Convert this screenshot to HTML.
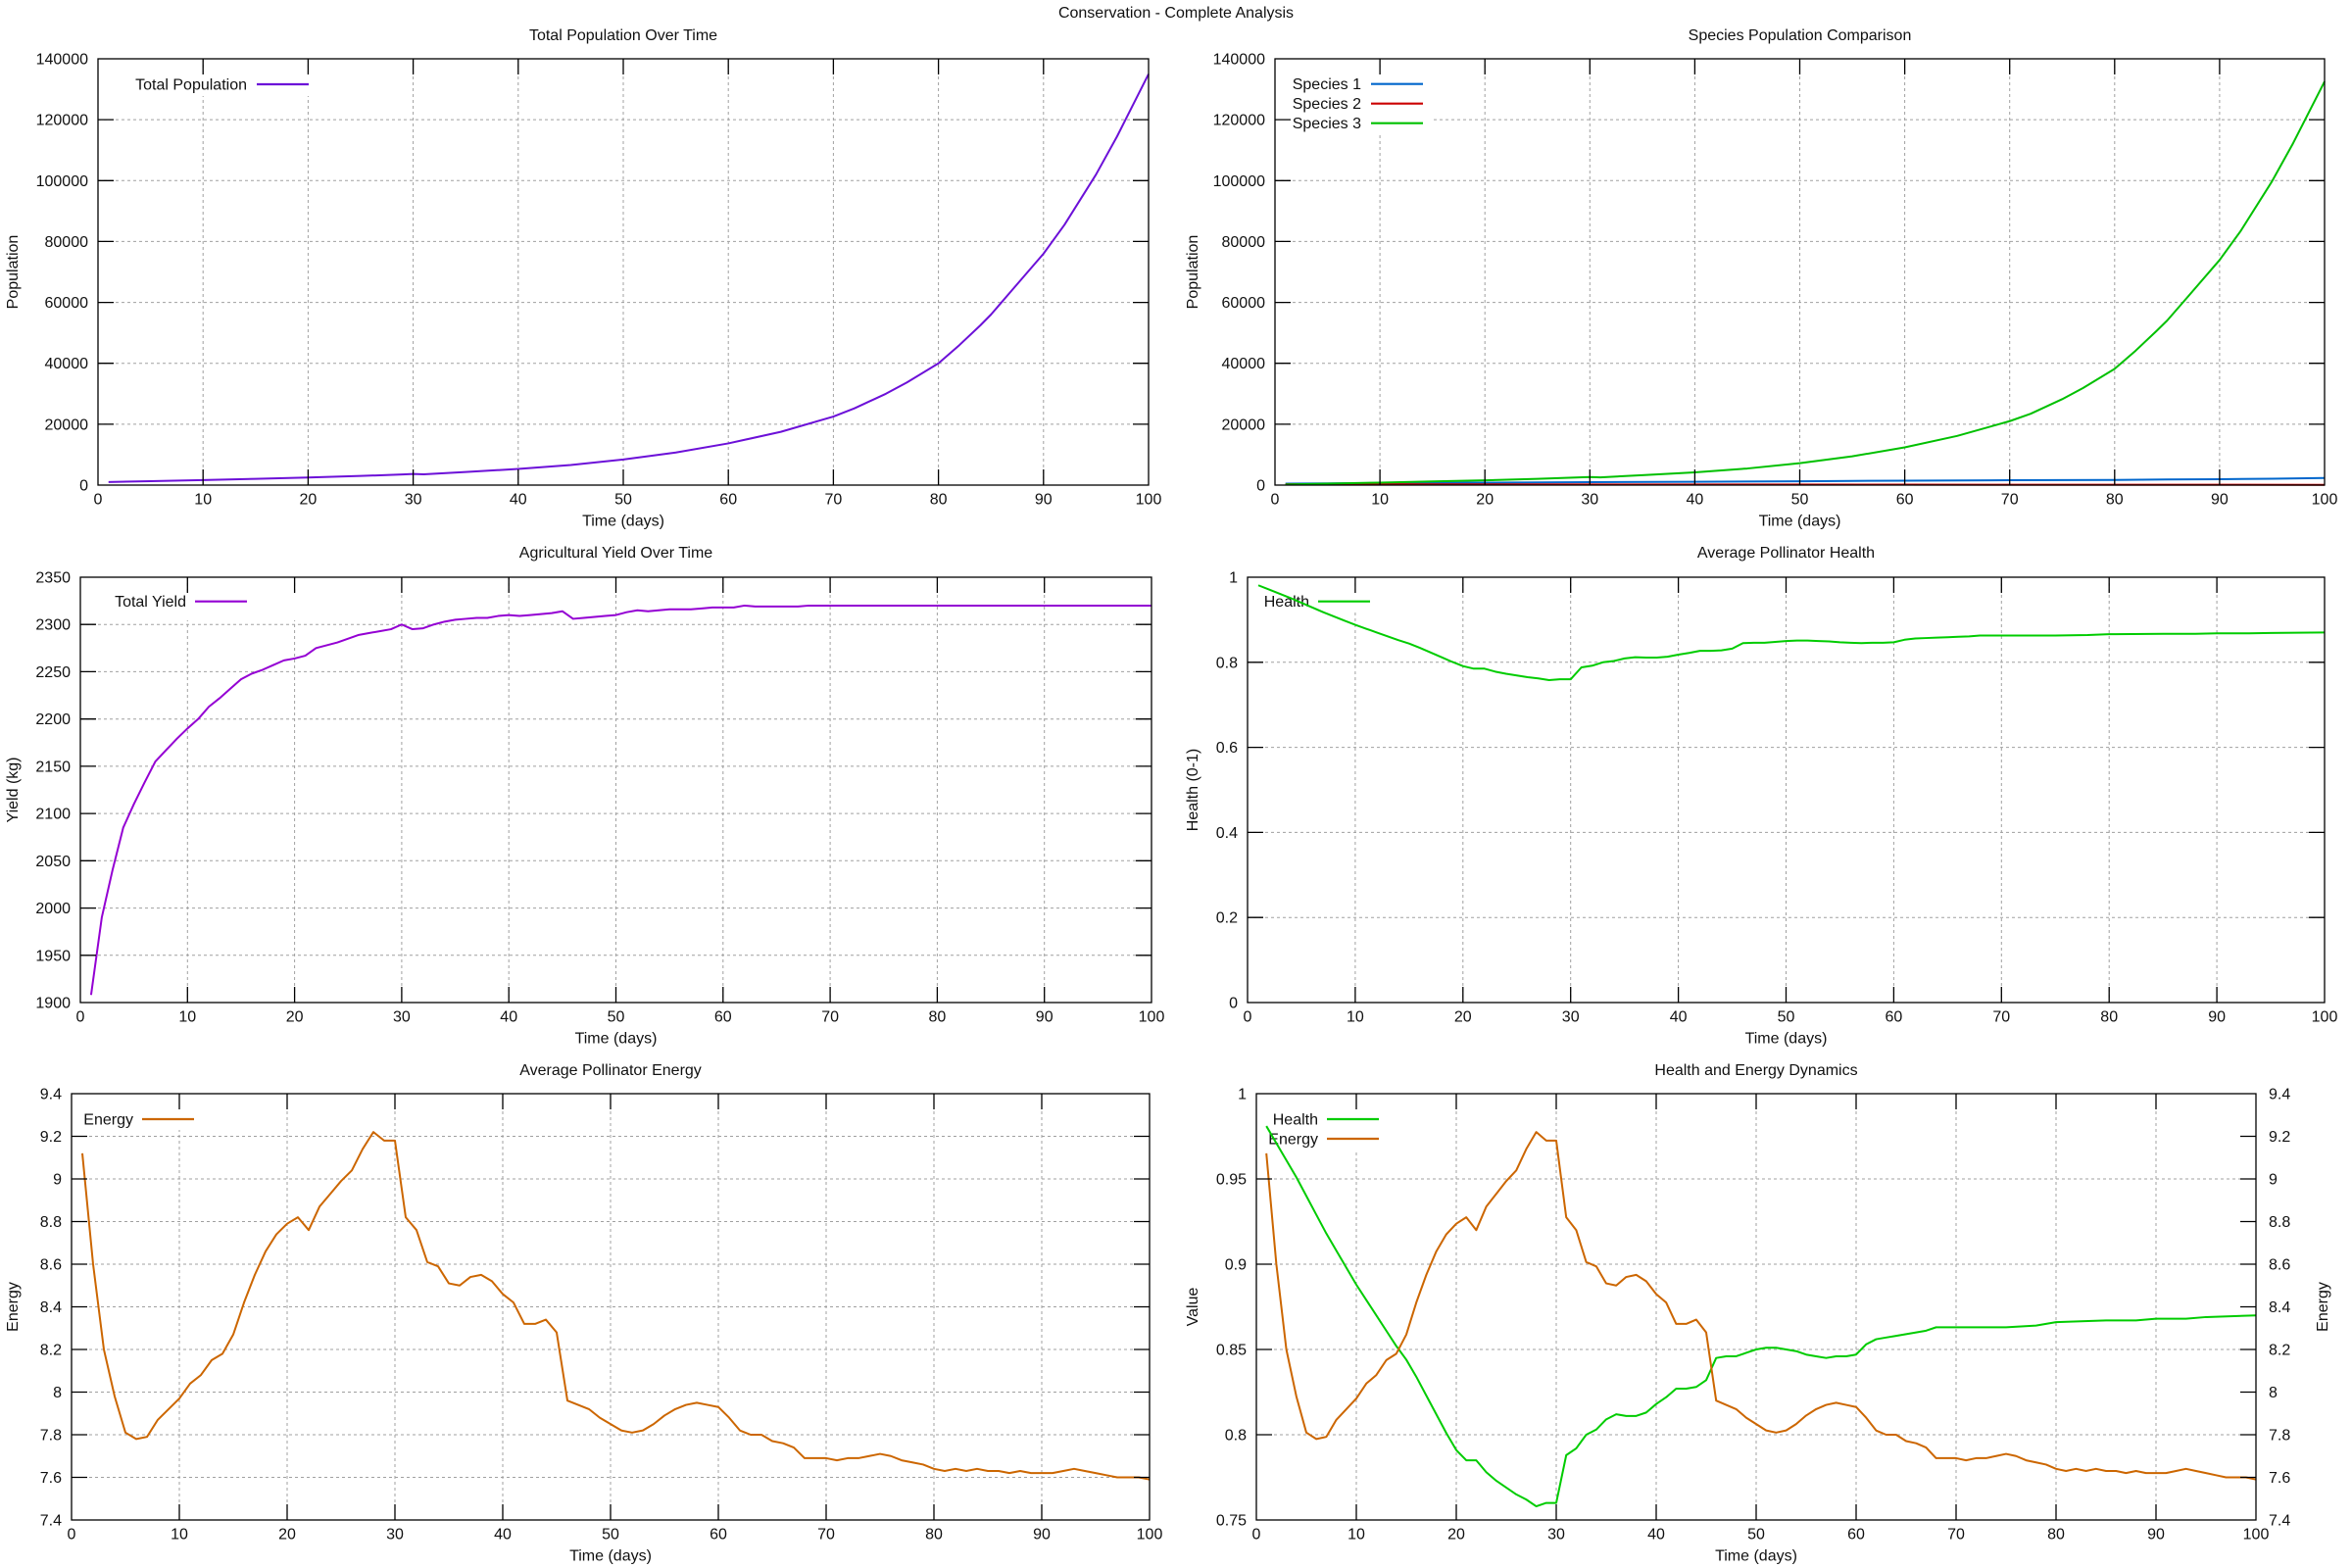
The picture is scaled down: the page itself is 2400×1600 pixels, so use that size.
<!DOCTYPE html>
<html><head><meta charset="utf-8"><style>
html,body{margin:0;padding:0;background:#fff}
svg{display:block}
text{font-family:"Liberation Sans",Arial,sans-serif;font-size:16px;fill:#111}
.gr{stroke:#a0a0a0;stroke-width:1;stroke-dasharray:3 3;fill:none}
.tk{stroke:#000;stroke-width:1.3;fill:none}
.bd{stroke:#000;stroke-width:1.3;fill:none}
.ln{fill:none;stroke-width:2;stroke-linejoin:round;vector-effect:non-scaling-stroke}
.sm{stroke-width:2.2}
.r{text-anchor:end}.m{text-anchor:middle}
</style></head><body>
<svg width="2400" height="1600" viewBox="0 0 2400 1600" xmlns="http://www.w3.org/2000/svg">
<rect width="2400" height="1600" fill="#fff"/>
<text x="1200" y="18" class="m">Conservation - Complete Analysis</text>

<!-- ========== TL ========== -->
<path class="gr" d="M207.2 60V495M314.4 60V495M421.6 60V495M528.8 60V495M636 60V495M743.2 60V495M850.4 60V495M957.6 60V495M1064.8 60V495M100 432.9H1172M100 370.7H1172M100 308.6H1172M100 246.4H1172M100 184.3H1172M100 122.1H1172"/>
<rect x="101" y="77" width="222" height="21" fill="#fff"/>
<polyline class="ln" stroke="#6c10d8" transform="translate(100 495) scale(10.72 -0.0031071)" points="1,1000 5,1300 10,1650 15,2050 20,2500 25,3000 29,3500 30,3650 31,3550 35,4300 40,5300 45,6600 50,8400 55,10700 60,13700 65,17500 70,22500 72,25200 75,30000 77,33700 80,40000 82,46000 84,52500 85,56000 87,64000 90,76000 92,85500 95,102000 97,114500 100,135000"/>
<text x="252" y="91.5" class="r">Total Population</text>
<line x1="262" y1="86" x2="315" y2="86" stroke="#6c10d8" class="sm"/>
<path class="tk" d="M207.2 495v-16M207.2 60v16M314.4 495v-16M314.4 60v16M421.6 495v-16M421.6 60v16M528.8 495v-16M528.8 60v16M636 495v-16M636 60v16M743.2 495v-16M743.2 60v16M850.4 495v-16M850.4 60v16M957.6 495v-16M957.6 60v16M1064.8 495v-16M1064.8 60v16M100 432.9h16M1172 432.9h-16M100 370.7h16M1172 370.7h-16M100 308.6h16M1172 308.6h-16M100 246.4h16M1172 246.4h-16M100 184.3h16M1172 184.3h-16M100 122.1h16M1172 122.1h-16"/>
<rect class="bd" x="100" y="60" width="1072" height="435"/>
<text x="90" y="500.5" class="r">0</text>
<text x="90" y="438.4" class="r">20000</text>
<text x="90" y="376.2" class="r">40000</text>
<text x="90" y="314.1" class="r">60000</text>
<text x="90" y="251.9" class="r">80000</text>
<text x="90" y="189.8" class="r">100000</text>
<text x="90" y="127.6" class="r">120000</text>
<text x="90" y="65.5" class="r">140000</text>
<text x="100" y="514.5" class="m">0</text>
<text x="207.2" y="514.5" class="m">10</text>
<text x="314.4" y="514.5" class="m">20</text>
<text x="421.6" y="514.5" class="m">30</text>
<text x="528.8" y="514.5" class="m">40</text>
<text x="636" y="514.5" class="m">50</text>
<text x="743.2" y="514.5" class="m">60</text>
<text x="850.4" y="514.5" class="m">70</text>
<text x="957.6" y="514.5" class="m">80</text>
<text x="1064.8" y="514.5" class="m">90</text>
<text x="1172" y="514.5" class="m">100</text>
<text x="636" y="41" class="m">Total Population Over Time</text>
<text x="636" y="536.5" class="m">Time (days)</text>
<text transform="translate(18 277.5) rotate(-90)" class="m">Population</text>

<!-- ========== TR ========== -->
<path class="gr" d="M1408.1 60V495M1515.2 60V495M1622.3 60V495M1729.4 60V495M1836.5 60V495M1943.6 60V495M2050.7 60V495M2157.8 60V495M2264.9 60V495M1301 432.9H2372M1301 370.7H2372M1301 308.6H2372M1301 246.4H2372M1301 184.3H2372M1301 122.1H2372"/>
<rect x="1302" y="77" width="159" height="60" fill="#fff"/>
<polyline class="ln" stroke="#0066cc" transform="translate(1301 495) scale(10.71 -0.0031071)" points="1,500 10,650 20,800 30,950 40,1100 50,1250 55,1380 60,1450 70,1600 80,1700 85,1850 90,1950 95,2100 100,2350"/>
<polyline class="ln" stroke="#cc0000" transform="translate(1301 495) scale(10.71 -0.0031071)" points="1,300 20,250 40,200 60,150 80,120 100,100"/>
<polyline class="ln" stroke="#00c000" transform="translate(1301 495) scale(10.71 -0.0031071)" points="1,200 5,480 10,820 15,1200 20,1580 25,2050 29,2520 30,2650 31,2550 35,3260 40,4200 45,5450 50,7200 55,9450 60,12400 65,16150 70,21000 72,23440 75,28215 77,31900 80,38180 82,44150 84,50650 85,54030 87,61960 90,73930 92,83400 95,99800 97,112250 100,132550"/>
<text x="1389" y="91.2" class="r">Species 1</text>
<text x="1389" y="111.2" class="r">Species 2</text>
<text x="1389" y="131.2" class="r">Species 3</text>
<line x1="1399" y1="85.7" x2="1452" y2="85.7" stroke="#0066cc" class="sm"/>
<line x1="1399" y1="105.7" x2="1452" y2="105.7" stroke="#cc0000" class="sm"/>
<line x1="1399" y1="125.7" x2="1452" y2="125.7" stroke="#00c000" class="sm"/>
<path class="tk" d="M1408.1 495v-16M1408.1 60v16M1515.2 495v-16M1515.2 60v16M1622.3 495v-16M1622.3 60v16M1729.4 495v-16M1729.4 60v16M1836.5 495v-16M1836.5 60v16M1943.6 495v-16M1943.6 60v16M2050.7 495v-16M2050.7 60v16M2157.8 495v-16M2157.8 60v16M2264.9 495v-16M2264.9 60v16M1301 432.9h16M2372 432.9h-16M1301 370.7h16M2372 370.7h-16M1301 308.6h16M2372 308.6h-16M1301 246.4h16M2372 246.4h-16M1301 184.3h16M2372 184.3h-16M1301 122.1h16M2372 122.1h-16"/>
<rect class="bd" x="1301" y="60" width="1071" height="435"/>
<text x="1291" y="500.5" class="r">0</text>
<text x="1291" y="438.4" class="r">20000</text>
<text x="1291" y="376.2" class="r">40000</text>
<text x="1291" y="314.1" class="r">60000</text>
<text x="1291" y="251.9" class="r">80000</text>
<text x="1291" y="189.8" class="r">100000</text>
<text x="1291" y="127.6" class="r">120000</text>
<text x="1291" y="65.5" class="r">140000</text>
<text x="1301" y="514.5" class="m">0</text>
<text x="1408.1" y="514.5" class="m">10</text>
<text x="1515.2" y="514.5" class="m">20</text>
<text x="1622.3" y="514.5" class="m">30</text>
<text x="1729.4" y="514.5" class="m">40</text>
<text x="1836.5" y="514.5" class="m">50</text>
<text x="1943.6" y="514.5" class="m">60</text>
<text x="2050.7" y="514.5" class="m">70</text>
<text x="2157.8" y="514.5" class="m">80</text>
<text x="2264.9" y="514.5" class="m">90</text>
<text x="2372" y="514.5" class="m">100</text>
<text x="1836.5" y="41" class="m">Species Population Comparison</text>
<text x="1836.5" y="536.5" class="m">Time (days)</text>
<text transform="translate(1222 277.5) rotate(-90)" class="m">Population</text>

<!-- ========== ML ========== -->
<path class="gr" d="M191.3 589V1023M300.6 589V1023M409.9 589V1023M519.2 589V1023M628.5 589V1023M737.8 589V1023M847.1 589V1023M956.4 589V1023M1065.7 589V1023M82 974.8H1175M82 926.6H1175M82 878.3H1175M82 830.1H1175M82 781.9H1175M82 733.7H1175M82 685.4H1175M82 637.2H1175"/>
<rect x="83" y="605" width="222" height="28" fill="#fff"/>
<polyline class="ln" stroke="#9400d3" transform="translate(82 2855.44) scale(10.93 -0.96444)" points="1,1908 2,1990 3,2040 4,2085 5,2110 6,2133 7,2155 8,2167 9,2179 10,2190 11,2200 12,2213 13,2222 14,2232 15,2242 16,2248 17,2252 18,2257 19,2262 20,2264 21,2267 22,2275 23,2278 24,2281 25,2285 26,2289 27,2291 28,2293 29,2295 30,2300 31,2295 32,2296 33,2300 34,2303 35,2305 36,2306 37,2307 38,2307 39,2309 40,2310 41,2309 42,2310 43,2311 44,2312 45,2314 46,2306 47,2307 48,2308 49,2309 50,2310 51,2313 52,2315 53,2314 54,2315 55,2316 56,2316 57,2316 58,2317 59,2318 60,2318 61,2318 62,2320 63,2319 64,2319 65,2319 66,2319 67,2319 68,2320 69,2320 70,2320 80,2320 90,2320 100,2320"/>
<text x="190" y="619.2" class="r">Total Yield</text>
<line x1="199" y1="613.7" x2="252" y2="613.7" stroke="#9400d3" class="sm"/>
<path class="tk" d="M191.3 1023v-16M191.3 589v16M300.6 1023v-16M300.6 589v16M409.9 1023v-16M409.9 589v16M519.2 1023v-16M519.2 589v16M628.5 1023v-16M628.5 589v16M737.8 1023v-16M737.8 589v16M847.1 1023v-16M847.1 589v16M956.4 1023v-16M956.4 589v16M1065.7 1023v-16M1065.7 589v16M82 974.8h16M1175 974.8h-16M82 926.6h16M1175 926.6h-16M82 878.3h16M1175 878.3h-16M82 830.1h16M1175 830.1h-16M82 781.9h16M1175 781.9h-16M82 733.7h16M1175 733.7h-16M82 685.4h16M1175 685.4h-16M82 637.2h16M1175 637.2h-16"/>
<rect class="bd" x="82" y="589" width="1093" height="434"/>
<text x="72" y="1028.5" class="r">1900</text>
<text x="72" y="980.3" class="r">1950</text>
<text x="72" y="932.1" class="r">2000</text>
<text x="72" y="883.8" class="r">2050</text>
<text x="72" y="835.6" class="r">2100</text>
<text x="72" y="787.4" class="r">2150</text>
<text x="72" y="739.2" class="r">2200</text>
<text x="72" y="690.9" class="r">2250</text>
<text x="72" y="642.7" class="r">2300</text>
<text x="72" y="594.5" class="r">2350</text>
<text x="82" y="1042.5" class="m">0</text>
<text x="191.3" y="1042.5" class="m">10</text>
<text x="300.6" y="1042.5" class="m">20</text>
<text x="409.9" y="1042.5" class="m">30</text>
<text x="519.2" y="1042.5" class="m">40</text>
<text x="628.5" y="1042.5" class="m">50</text>
<text x="737.8" y="1042.5" class="m">60</text>
<text x="847.1" y="1042.5" class="m">70</text>
<text x="956.4" y="1042.5" class="m">80</text>
<text x="1065.7" y="1042.5" class="m">90</text>
<text x="1175" y="1042.5" class="m">100</text>
<text x="628.5" y="569" class="m">Agricultural Yield Over Time</text>
<text x="628.5" y="1064.5" class="m">Time (days)</text>
<text transform="translate(18 806) rotate(-90)" class="m">Yield (kg)</text>

<!-- ========== MR ========== -->
<path class="gr" d="M1382.9 589V1023M1492.8 589V1023M1602.7 589V1023M1712.6 589V1023M1822.5 589V1023M1932.4 589V1023M2042.3 589V1023M2152.2 589V1023M2262.1 589V1023M1273 936.2H2372M1273 849.4H2372M1273 762.6H2372M1273 675.8H2372"/>
<rect x="1274" y="605" width="134" height="20" fill="#fff"/>
<text x="1336" y="619.2" class="r">Health</text>
<line x1="1345" y1="613.7" x2="1398" y2="613.7" stroke="#00cc00" class="sm"/>
<polyline class="ln" stroke="#00cc00" transform="translate(1273 1023) scale(10.99 -434)" points="1,0.981 2,0.971 3,0.961 4,0.951 5,0.940 6,0.929 7,0.918 8,0.908 9,0.898 10,0.888 11,0.879 12,0.870 13,0.861 14,0.852 15,0.844 16,0.834 17,0.823 18,0.812 19,0.801 20,0.791 21,0.785 22,0.785 23,0.778 24,0.773 25,0.769 26,0.765 27,0.762 28,0.758 29,0.760 30,0.760 31,0.788 32,0.792 33,0.800 34,0.803 35,0.809 36,0.812 37,0.811 38,0.811 39,0.813 40,0.818 41,0.822 42,0.827 43,0.827 44,0.828 45,0.832 46,0.845 47,0.846 48,0.846 49,0.848 50,0.850 51,0.851 52,0.851 53,0.850 54,0.849 55,0.847 56,0.846 57,0.845 58,0.846 59,0.846 60,0.847 61,0.853 62,0.856 63,0.857 64,0.858 65,0.859 66,0.860 67,0.861 68,0.863 69,0.863 70,0.863 75,0.863 78,0.864 80,0.866 85,0.867 88,0.867 90,0.868 93,0.868 95,0.869 100,0.870"/>
<path class="tk" d="M1382.9 1023v-16M1382.9 589v16M1492.8 1023v-16M1492.8 589v16M1602.7 1023v-16M1602.7 589v16M1712.6 1023v-16M1712.6 589v16M1822.5 1023v-16M1822.5 589v16M1932.4 1023v-16M1932.4 589v16M2042.3 1023v-16M2042.3 589v16M2152.2 1023v-16M2152.2 589v16M2262.1 1023v-16M2262.1 589v16M1273 936.2h16M2372 936.2h-16M1273 849.4h16M2372 849.4h-16M1273 762.6h16M2372 762.6h-16M1273 675.8h16M2372 675.8h-16"/>
<rect class="bd" x="1273" y="589" width="1099" height="434"/>
<text x="1263" y="1028.5" class="r">0</text>
<text x="1263" y="941.7" class="r">0.2</text>
<text x="1263" y="854.9" class="r">0.4</text>
<text x="1263" y="768.1" class="r">0.6</text>
<text x="1263" y="681.3" class="r">0.8</text>
<text x="1263" y="594.5" class="r">1</text>
<text x="1273" y="1042.5" class="m">0</text>
<text x="1382.9" y="1042.5" class="m">10</text>
<text x="1492.8" y="1042.5" class="m">20</text>
<text x="1602.7" y="1042.5" class="m">30</text>
<text x="1712.6" y="1042.5" class="m">40</text>
<text x="1822.5" y="1042.5" class="m">50</text>
<text x="1932.4" y="1042.5" class="m">60</text>
<text x="2042.3" y="1042.5" class="m">70</text>
<text x="2152.2" y="1042.5" class="m">80</text>
<text x="2262.1" y="1042.5" class="m">90</text>
<text x="2372" y="1042.5" class="m">100</text>
<text x="1822.5" y="569" class="m">Average Pollinator Health</text>
<text x="1822.5" y="1064.5" class="m">Time (days)</text>
<text transform="translate(1222 806) rotate(-90)" class="m">Health (0-1)</text>

<!-- ========== BL ========== -->
<path class="gr" d="M183 1116V1551M293 1116V1551M403 1116V1551M513 1116V1551M623 1116V1551M733 1116V1551M843 1116V1551M953 1116V1551M1063 1116V1551M73 1507.5H1173M73 1464H1173M73 1420.5H1173M73 1377H1173M73 1333.5H1173M73 1290H1173M73 1246.5H1173M73 1203H1173M73 1159.5H1173"/>
<rect x="74" y="1133" width="132" height="20" fill="#fff"/>
<polyline class="ln" stroke="#cc6600" transform="translate(73 3160.5) scale(11 -217.5)" points="1,9.12 2,8.6 3,8.2 4,7.98 5,7.81 6,7.78 7,7.79 8,7.87 9,7.92 10,7.97 11,8.04 12,8.08 13,8.15 14,8.18 15,8.27 16,8.42 17,8.55 18,8.66 19,8.74 20,8.79 21,8.82 22,8.76 23,8.87 24,8.93 25,8.99 26,9.04 27,9.14 28,9.22 29,9.18 30,9.18 31,8.82 32,8.76 33,8.61 34,8.59 35,8.51 36,8.50 37,8.54 38,8.55 39,8.52 40,8.46 41,8.42 42,8.32 43,8.32 44,8.34 45,8.28 46,7.96 47,7.94 48,7.92 49,7.88 50,7.85 51,7.82 52,7.81 53,7.82 54,7.85 55,7.89 56,7.92 57,7.94 58,7.95 59,7.94 60,7.93 61,7.88 62,7.82 63,7.80 64,7.80 65,7.77 66,7.76 67,7.74 68,7.69 69,7.69 70,7.69 71,7.68 72,7.69 73,7.69 74,7.70 75,7.71 76,7.70 77,7.68 78,7.67 79,7.66 80,7.64 81,7.63 82,7.64 83,7.63 84,7.64 85,7.63 86,7.63 87,7.62 88,7.63 89,7.62 90,7.62 91,7.62 92,7.63 93,7.64 94,7.63 95,7.62 96,7.61 97,7.60 98,7.60 99,7.60 100,7.59"/>
<text x="136" y="1147.5" class="r">Energy</text>
<line x1="145" y1="1142" x2="198" y2="1142" stroke="#cc6600" class="sm"/>
<path class="tk" d="M183 1551v-16M183 1116v16M293 1551v-16M293 1116v16M403 1551v-16M403 1116v16M513 1551v-16M513 1116v16M623 1551v-16M623 1116v16M733 1551v-16M733 1116v16M843 1551v-16M843 1116v16M953 1551v-16M953 1116v16M1063 1551v-16M1063 1116v16M73 1507.5h16M1173 1507.5h-16M73 1464h16M1173 1464h-16M73 1420.5h16M1173 1420.5h-16M73 1377h16M1173 1377h-16M73 1333.5h16M1173 1333.5h-16M73 1290h16M1173 1290h-16M73 1246.5h16M1173 1246.5h-16M73 1203h16M1173 1203h-16M73 1159.5h16M1173 1159.5h-16"/>
<rect class="bd" x="73" y="1116" width="1100" height="435"/>
<text x="63" y="1556.5" class="r">7.4</text>
<text x="63" y="1513" class="r">7.6</text>
<text x="63" y="1469.5" class="r">7.8</text>
<text x="63" y="1426" class="r">8</text>
<text x="63" y="1382.5" class="r">8.2</text>
<text x="63" y="1339" class="r">8.4</text>
<text x="63" y="1295.5" class="r">8.6</text>
<text x="63" y="1252" class="r">8.8</text>
<text x="63" y="1208.5" class="r">9</text>
<text x="63" y="1165" class="r">9.2</text>
<text x="63" y="1121.5" class="r">9.4</text>
<text x="73" y="1570.5" class="m">0</text>
<text x="183" y="1570.5" class="m">10</text>
<text x="293" y="1570.5" class="m">20</text>
<text x="403" y="1570.5" class="m">30</text>
<text x="513" y="1570.5" class="m">40</text>
<text x="623" y="1570.5" class="m">50</text>
<text x="733" y="1570.5" class="m">60</text>
<text x="843" y="1570.5" class="m">70</text>
<text x="953" y="1570.5" class="m">80</text>
<text x="1063" y="1570.5" class="m">90</text>
<text x="1173" y="1570.5" class="m">100</text>
<text x="623" y="1097" class="m">Average Pollinator Energy</text>
<text x="623" y="1592.5" class="m">Time (days)</text>
<text transform="translate(18 1333.5) rotate(-90)" class="m">Energy</text>

<!-- ========== BR ========== -->
<path class="gr" d="M1384 1116V1551M1486 1116V1551M1588 1116V1551M1690 1116V1551M1792 1116V1551M1894 1116V1551M1996 1116V1551M2098 1116V1551M2200 1116V1551M1282 1464H2302M1282 1377H2302M1282 1290H2302M1282 1203H2302"/>
<rect x="1283" y="1133" width="134" height="40" fill="#fff"/>
<text x="1345" y="1147.5" class="r">Health</text>
<text x="1345" y="1167.5" class="r">Energy</text>
<line x1="1354" y1="1142" x2="1407" y2="1142" stroke="#00cc00" class="sm"/>
<line x1="1354" y1="1162" x2="1407" y2="1162" stroke="#cc6600" class="sm"/>
<polyline class="ln" stroke="#00cc00" transform="translate(1282 2856) scale(10.2 -1740)" points="1,0.981 2,0.971 3,0.961 4,0.951 5,0.940 6,0.929 7,0.918 8,0.908 9,0.898 10,0.888 11,0.879 12,0.870 13,0.861 14,0.852 15,0.844 16,0.834 17,0.823 18,0.812 19,0.801 20,0.791 21,0.785 22,0.785 23,0.778 24,0.773 25,0.769 26,0.765 27,0.762 28,0.758 29,0.760 30,0.760 31,0.788 32,0.792 33,0.800 34,0.803 35,0.809 36,0.812 37,0.811 38,0.811 39,0.813 40,0.818 41,0.822 42,0.827 43,0.827 44,0.828 45,0.832 46,0.845 47,0.846 48,0.846 49,0.848 50,0.850 51,0.851 52,0.851 53,0.850 54,0.849 55,0.847 56,0.846 57,0.845 58,0.846 59,0.846 60,0.847 61,0.853 62,0.856 63,0.857 64,0.858 65,0.859 66,0.860 67,0.861 68,0.863 69,0.863 70,0.863 75,0.863 78,0.864 80,0.866 85,0.867 88,0.867 90,0.868 93,0.868 95,0.869 100,0.870"/>
<polyline class="ln" stroke="#cc6600" transform="translate(1282 3160.5) scale(10.2 -217.5)" points="1,9.12 2,8.6 3,8.2 4,7.98 5,7.81 6,7.78 7,7.79 8,7.87 9,7.92 10,7.97 11,8.04 12,8.08 13,8.15 14,8.18 15,8.27 16,8.42 17,8.55 18,8.66 19,8.74 20,8.79 21,8.82 22,8.76 23,8.87 24,8.93 25,8.99 26,9.04 27,9.14 28,9.22 29,9.18 30,9.18 31,8.82 32,8.76 33,8.61 34,8.59 35,8.51 36,8.50 37,8.54 38,8.55 39,8.52 40,8.46 41,8.42 42,8.32 43,8.32 44,8.34 45,8.28 46,7.96 47,7.94 48,7.92 49,7.88 50,7.85 51,7.82 52,7.81 53,7.82 54,7.85 55,7.89 56,7.92 57,7.94 58,7.95 59,7.94 60,7.93 61,7.88 62,7.82 63,7.80 64,7.80 65,7.77 66,7.76 67,7.74 68,7.69 69,7.69 70,7.69 71,7.68 72,7.69 73,7.69 74,7.70 75,7.71 76,7.70 77,7.68 78,7.67 79,7.66 80,7.64 81,7.63 82,7.64 83,7.63 84,7.64 85,7.63 86,7.63 87,7.62 88,7.63 89,7.62 90,7.62 91,7.62 92,7.63 93,7.64 94,7.63 95,7.62 96,7.61 97,7.60 98,7.60 99,7.60 100,7.59"/>
<path class="tk" d="M1384 1551v-16M1384 1116v16M1486 1551v-16M1486 1116v16M1588 1551v-16M1588 1116v16M1690 1551v-16M1690 1116v16M1792 1551v-16M1792 1116v16M1894 1551v-16M1894 1116v16M1996 1551v-16M1996 1116v16M2098 1551v-16M2098 1116v16M2200 1551v-16M2200 1116v16M1282 1464h16M1282 1377h16M1282 1290h16M1282 1203h16M2302 1507.5h-16M2302 1464h-16M2302 1420.5h-16M2302 1377h-16M2302 1333.5h-16M2302 1290h-16M2302 1246.5h-16M2302 1203h-16M2302 1159.5h-16"/>
<rect class="bd" x="1282" y="1116" width="1020" height="435"/>
<text x="1272" y="1556.5" class="r">0.75</text>
<text x="1272" y="1469.5" class="r">0.8</text>
<text x="1272" y="1382.5" class="r">0.85</text>
<text x="1272" y="1295.5" class="r">0.9</text>
<text x="1272" y="1208.5" class="r">0.95</text>
<text x="1272" y="1121.5" class="r">1</text>
<text x="2315" y="1556.5">7.4</text>
<text x="2315" y="1513">7.6</text>
<text x="2315" y="1469.5">7.8</text>
<text x="2315" y="1426">8</text>
<text x="2315" y="1382.5">8.2</text>
<text x="2315" y="1339">8.4</text>
<text x="2315" y="1295.5">8.6</text>
<text x="2315" y="1252">8.8</text>
<text x="2315" y="1208.5">9</text>
<text x="2315" y="1165">9.2</text>
<text x="2315" y="1121.5">9.4</text>
<text x="1282" y="1570.5" class="m">0</text>
<text x="1384" y="1570.5" class="m">10</text>
<text x="1486" y="1570.5" class="m">20</text>
<text x="1588" y="1570.5" class="m">30</text>
<text x="1690" y="1570.5" class="m">40</text>
<text x="1792" y="1570.5" class="m">50</text>
<text x="1894" y="1570.5" class="m">60</text>
<text x="1996" y="1570.5" class="m">70</text>
<text x="2098" y="1570.5" class="m">80</text>
<text x="2200" y="1570.5" class="m">90</text>
<text x="2302" y="1570.5" class="m">100</text>
<text x="1792" y="1097" class="m">Health and Energy Dynamics</text>
<text x="1792" y="1592.5" class="m">Time (days)</text>
<text transform="translate(1222 1333.5) rotate(-90)" class="m">Value</text>
<text transform="translate(2375 1333.5) rotate(-90)" class="m">Energy</text>
</svg>
</body></html>
